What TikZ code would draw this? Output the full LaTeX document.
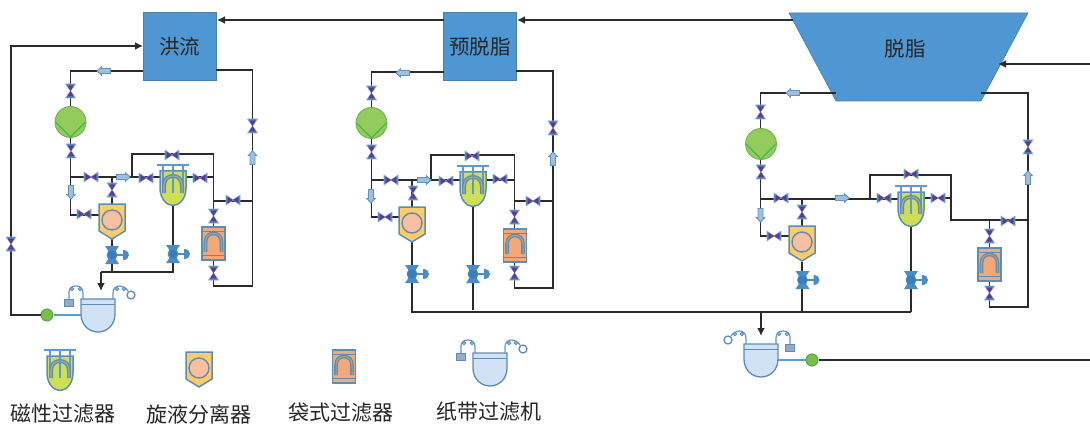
\documentclass[tikz,border=0pt]{standalone}
\usepackage{fontspec}
\setmainfont{Noto Sans CJK SC}
\usetikzlibrary{arrows.meta}
\definecolor{pipec}{HTML}{2B2B2B}
\definecolor{boxblue}{HTML}{4F97D3}
\definecolor{boxedge}{HTML}{4A80B0}
\definecolor{vblue}{HTML}{4672B0}
\definecolor{vpurple}{HTML}{5A3A9C}
\definecolor{arfill}{HTML}{9DC0E2}
\definecolor{aredge}{HTML}{5F93C4}
\definecolor{eqedge}{HTML}{5B8DB8}
\definecolor{ctrlb}{HTML}{4A8CC8}
\definecolor{lineblue}{HTML}{5B9BD5}
\tikzset{
  pipe/.style={draw=pipec,line width=1.6pt,line join=miter},
  feedpipe/.style={pipe,-{Latex[length=8pt,width=8pt]}},
  bluepipe/.style={draw=lineblue,line width=1.4pt},
  bigbox/.style={draw=boxedge,line width=1pt,fill=boxblue,minimum width=73pt,minimum height=68pt,inner sep=0pt,font=\fontsize{20.5}{24}\selectfont,text=black!85},
  boxtext/.style={inner sep=0pt,font=\fontsize{20.5}{24}\selectfont,text=black!85},
  legendtext/.style={inner sep=0pt,font=\fontsize{21}{24}\selectfont,text=black!85},
  ball/.style={circle,draw={rgb,255:red,90;green,165;blue,70},line width=1pt,fill={rgb,255:red,118;green,192;blue,72},minimum size=12pt,inner sep=0pt},
  vlv/.pic={
    \path[fill=vblue,draw=vblue!55,line width=.7pt,line join=round] (-7,-5)--(0,0)--(-7,5)--cycle (7,-5)--(0,0)--(7,5)--cycle;
    \fill[vpurple] (-5,-3)--(0,0)--(-5,3)--cycle (5,-3)--(0,0)--(5,3)--cycle;
  },
  blockarr/.pic={
    \path[fill=arfill,draw=aredge,line width=.9pt] (-6.5,-2.5)--(2.5,-2.5)--(2.5,-4.2)--(7,0)--(2.5,4.2)--(2.5,2.5)--(-6.5,2.5)--cycle;
  },
  pumpball/.pic={
    \fill[fill={rgb,255:red,146;green,204;blue,92},draw={rgb,255:red,112;green,172;blue,80},line width=.8pt] (0,0) circle (15.5);
    \draw[draw={rgb,255:red,76;green,184;blue,72},line width=1.2pt] (-15,0)--(0,15)--(15,0);
  },
  magfilt/.pic={
    \path[fill={rgb,255:red,206;green,223;blue,85},draw=eqedge,line width=1.5pt] (-13,0)--(13,0)--(13,17) .. controls (13,28) and (6,34.5) .. (0,34.5) .. controls (-6,34.5) and (-13,28) .. (-13,17)--cycle;
    \draw[draw=lineblue,line width=1.2pt] (-16,-6)--(16,-6) (-10,-6)--(-10,22) (0,-6)--(0,22) (10,-6)--(10,22);
    \draw[draw={rgb,255:red,100;green,138;blue,165},line width=4pt] (-9,22)--(-9,15) .. controls (-9,8) and (-5,5) .. (0,5) .. controls (5,5) and (9,8) .. (9,15)--(9,22);
    \draw[draw={rgb,255:red,150;green,175;blue,175},line width=1.2pt] (-9,22)--(-9,15) .. controls (-9,8) and (-5,5) .. (0,5) .. controls (5,5) and (9,8) .. (9,15)--(9,22);
    \draw[draw=lineblue,line width=1pt] (0,-6)--(0,22);
  },
  cyclo/.pic={
    \path[fill={rgb,255:red,255;green,204;blue,102},draw=eqedge,line width=1.5pt] (-13,0)--(13,0)--(13,27)--(0,35)--(-13,27)--cycle;
    \path[fill={rgb,255:red,248;green,192;blue,160},draw=eqedge,line width=1.4pt] (0,16) circle (10);
  },
  bagfilt/.pic={
    \path[fill={rgb,255:red,244;green,168;blue,120},draw=eqedge,line width=1.5pt] (-11.5,0) rectangle (11.5,33);
    \draw[draw=eqedge,line width=.8pt] (-11.5,4.5)--(11.5,4.5) (-11.5,28)--(11.5,28);
    \draw[draw={rgb,255:red,100;green,138;blue,165},line width=3.6pt] (-8,25)--(-8,15) .. controls (-8,9) and (-4,6.5) .. (0,6.5) .. controls (4,6.5) and (8,9) .. (8,15)--(8,25);
    \draw[draw={rgb,255:red,150;green,170;blue,175},line width=1pt] (-8,25)--(-8,15) .. controls (-8,9) and (-4,6.5) .. (0,6.5) .. controls (4,6.5) and (8,9) .. (8,15)--(8,25);
  },
  ctrlv/.pic={
    \draw[draw=ctrlb,line width=1.3pt] (0,0)--(11,0);
    \fill[ctrlb] (-7,-9)--(7,-9)--(3,-3)--(-3,-3)--cycle (-7,9)--(7,9)--(3,3)--(-3,3)--cycle;
    \fill[ctrlb] (11,-5) .. controls (15,-5) and (17,-2.5) .. (17,0) .. controls (17,2.5) and (15,5) .. (11,5)--cycle;
    \path[fill={rgb,255:red,58;green,125;blue,190},draw=ctrlb,line width=.8pt] (0,0) circle (5);
  },
  beltfilt/.pic={
    \path[fill={rgb,255:red,208;green,226;blue,243},draw=eqedge,line width=1.3pt] (-17,0)--(17,0)--(17,15) .. controls (17,26) and (9,33) .. (0,33) .. controls (-9,33) and (-17,26) .. (-17,15)--cycle;
    \draw[draw=eqedge,line width=.8pt] (-17,5)--(17,5);
    \draw[draw=lineblue,line width=1.2pt] (-29,0)--(-29,-7) .. controls (-29,-11) and (-26,-13) .. (-22,-13) .. controls (-18,-13) and (-15,-11) .. (-15,-6)--(-15,0);
    \draw[draw=lineblue,line width=1.2pt] (15,0)--(15,-6) .. controls (15,-11) and (18,-13) .. (22,-13) .. controls (25,-13) and (28,-11) .. (30,-8);
    \path[fill=white,draw=eqedge,line width=1pt] (-26,-10) circle (1.6) (-18,-10) circle (1.6) (19,-10) circle (1.6) (26,-10) circle (1.6);
    \path[fill=white,draw=eqedge,line width=1.3pt] (33,-4) circle (4);
    \path[fill={rgb,255:red,150;green,170;blue,200},draw=eqedge,line width=1pt] (-33.5,0) rectangle (-24.5,7);
  },
}
\begin{document}
\begin{tikzpicture}[x=1pt,y=-1pt]
\useasboundingbox (0,0) rectangle (1090,425);
\fill[white] (0,0) rectangle (1090,425);
% main tanks
\node[bigbox] (hl) at (179.5,47) {洪流};
\node[bigbox] (yt) at (480,47) {预脱脂};
\path[fill=boxblue,draw=boxedge,line width=.6pt] (789,13)--(1028,13)--(981,101)--(836,101)--cycle;
\node[boxtext] (tz) at (905,49) {脱脂};
\node[ball] (g1) at (47,315) {};
\node[ball] (g2) at (812,360) {};
% unit coordinates
\coordinate (t1) at (217,20); \coordinate (t1s) at (444,20);
\coordinate (t2) at (517,20); \coordinate (t2s) at (793,20);
\coordinate (fd) at (998,64); \coordinate (fds) at (1090,64);
\coordinate (hlin) at (143,46); \coordinate (lp1) at (11,46); \coordinate (lp2) at (11,315);
\coordinate (se) at (1090,360);
% unit 1
\coordinate (a1) at (143,71); \coordinate (a2) at (70.5,71); \coordinate (aj) at (70.5,177);
\coordinate (a3) at (70.5,215); \coordinate (acl) at (99,215); \coordinate (act) at (112,177);
\coordinate (acb) at (112,204); \coordinate (alb) at (132,177); \coordinate (alt) at (132,154);
\coordinate (alr) at (213.5,154); \coordinate (aml) at (160,177); \coordinate (amr) at (186,177);
\coordinate (ar) at (213.5,177); \coordinate (arj) at (213.5,201); \coordinate (are) at (252.5,201);
\coordinate (abt) at (213.5,227); \coordinate (abb) at (213.5,260); \coordinate (a4) at (213.5,286);
\coordinate (a5) at (252.5,286); \coordinate (a6) at (252.5,70); \coordinate (a7) at (216,70);
\coordinate (acy) at (112,239); \coordinate (aw1) at (112,272); \coordinate (amb) at (173,205);
\coordinate (aw2) at (173,272); \coordinate (aw0) at (101,272); \coordinate (afd) at (101,291);
\coordinate (bf1) at (81,315);
% unit 2
\coordinate (b1) at (444,72); \coordinate (b2) at (371.5,72); \coordinate (bj) at (371.5,180);
\coordinate (b3) at (371.5,217); \coordinate (bcl) at (399,217); \coordinate (bct) at (412,180);
\coordinate (bcb) at (412,207); \coordinate (blb) at (431,180); \coordinate (blt) at (431,155);
\coordinate (blr) at (514.5,155); \coordinate (bml) at (460,180); \coordinate (bmr) at (486,180);
\coordinate (br) at (514.5,180); \coordinate (brj) at (514.5,201); \coordinate (bre) at (553,201);
\coordinate (bbt) at (514.5,229); \coordinate (bbb) at (514.5,262); \coordinate (b4) at (514.5,288);
\coordinate (b5) at (553,288); \coordinate (b6) at (553,71); \coordinate (b7) at (516,71);
\coordinate (bcy) at (412,242); \coordinate (bw) at (412,312); \coordinate (bmb) at (473,207);
\coordinate (bw2) at (473,310);
% unit 3
\coordinate (c1) at (836,93); \coordinate (c2) at (760.5,93); \coordinate (cj) at (760.5,199);
\coordinate (c3) at (760.5,236); \coordinate (ccl) at (789,236); \coordinate (cct) at (802,199);
\coordinate (ccb) at (802,226); \coordinate (clb) at (870,199); \coordinate (clt) at (870,175);
\coordinate (clr) at (951,175); \coordinate (cml) at (898,199); \coordinate (cmr) at (924,198);
\coordinate (cr) at (951,198); \coordinate (crj) at (951,220); \coordinate (cre) at (1028,220);
\coordinate (cbj) at (989.5,220); \coordinate (cbt) at (989.5,248); \coordinate (cbb) at (989.5,281);
\coordinate (c4) at (989.5,307); \coordinate (c5) at (1028,307); \coordinate (c6) at (1028,93);
\coordinate (c7) at (981,93); \coordinate (ccy) at (802,262); \coordinate (cw) at (802,312);
\coordinate (cmb) at (911,226); \coordinate (cw2) at (911,312); \coordinate (cfs) at (761,312);
\coordinate (cfd) at (761,336); \coordinate (bf2) at (778,360);
% pipes
\draw[feedpipe] (t1s)--(t1);
\draw[feedpipe] (t2s)--(t2);
\draw[feedpipe] (fds)--(fd);
\draw[feedpipe] (g1)--(lp2)--(lp1)--(hlin);
\draw[pipe] (g2)--(se);
\draw[bluepipe] (g1)--(bf1);
\draw[bluepipe] (g2)--(bf2);
\draw[pipe] (a1)--(a2)--(aj)--(a3)--(acl);
\draw[pipe] (aj)--(aml);
\draw[pipe] (act)--(acb);
\draw[pipe] (alb)--(alt)--(alr)--(arj)--(are);
\draw[pipe] (amr)--(ar);
\draw[pipe] (arj)--(abt);
\draw[pipe] (abb)--(a4)--(a5)--(a6)--(a7);
\draw[pipe] (acy)--(aw1);
\draw[pipe] (amb)--(aw2)--(aw0);
\draw[feedpipe] (aw0)--(afd);
\draw[pipe] (b1)--(b2)--(bj)--(b3)--(bcl);
\draw[pipe] (bj)--(bml);
\draw[pipe] (bct)--(bcb);
\draw[pipe] (blb)--(blt)--(blr)--(brj)--(bre);
\draw[pipe] (bmr)--(br);
\draw[pipe] (brj)--(bbt);
\draw[pipe] (bbb)--(b4)--(b5)--(b6)--(b7);
\draw[pipe] (bcy)--(bw)--(cw2);
\draw[pipe] (bmb)--(bw2);
\draw[pipe] (c1)--(c2)--(cj)--(c3)--(ccl);
\draw[pipe] (cj)--(cml);
\draw[pipe] (cct)--(ccb);
\draw[pipe] (clb)--(clt)--(clr)--(crj)--(cre);
\draw[pipe] (cmr)--(cr);
\draw[pipe] (cbj)--(cbt);
\draw[pipe] (cbb)--(c4)--(c5)--(c6)--(c7);
\draw[pipe] (ccy)--(cw);
\draw[pipe] (cmb)--(cw2);
\draw[feedpipe] (cfs)--(cfd);
% equipment unit 1
\pic at (70.5,122) {pumpball};
\pic at (173,171) {magfilt};
\pic at (112,204) {cyclo};
\pic at (213.5,227) {bagfilt};
\pic at (98,299) {beltfilt};
\pic at (112,255) {ctrlv};
\pic at (173,254) {ctrlv};
\foreach \p in {(70.5,91),(71,151),(112,190),(213.5,216),(213.5,273),(252.5,126),(11,244)} \pic[rotate=90] at \p {vlv};
\foreach \p in {(91,177),(146,178),(172,155),(200,178),(233,200),(84,214)} \pic at \p {vlv};
\pic[rotate=180] at (104,71) {blockarr};
\pic[rotate=90] at (252.5,158) {blockarr};
\pic[rotate=270] at (71,192) {blockarr};
\pic at (123,177) {blockarr};
% equipment unit 2
\pic at (371.5,123) {pumpball};
\pic at (473,172) {magfilt};
\pic at (412,207) {cyclo};
\pic at (515,229) {bagfilt};
\pic at (412,274) {ctrlv};
\pic at (473,274) {ctrlv};
\foreach \p in {(371.5,93),(371.5,152),(413,193),(514.5,217),(514.5,273),(553,128)} \pic[rotate=90] at \p {vlv};
\foreach \p in {(391,180),(446,181),(472,156),(500,179),(533,201),(385,217)} \pic at \p {vlv};
\pic[rotate=180] at (403,73) {blockarr};
\pic[rotate=90] at (553,159) {blockarr};
\pic[rotate=270] at (371,196) {blockarr};
\pic at (424,180) {blockarr};
% equipment unit 3
\pic at (761,144) {pumpball};
\pic at (911,192) {magfilt};
\pic at (802,226) {cyclo};
\pic at (989.5,248) {bagfilt};
\pic[xscale=-1] at (761,344) {beltfilt};
\pic at (802.5,280) {ctrlv};
\pic at (911,280) {ctrlv};
\foreach \p in {(760.5,112),(761,172),(802,212),(989.5,236),(989.5,293),(1028,147)} \pic[rotate=90] at \p {vlv};
\foreach \p in {(781,198),(774,236),(884,198),(938,198),(911,174),(1008,221)} \pic at \p {vlv};
\pic[rotate=180] at (793,93) {blockarr};
\pic[rotate=90] at (1028,178) {blockarr};
\pic[rotate=270] at (760.5,215) {blockarr};
\pic at (842,198) {blockarr};
% legend
\pic at (60,356) {magfilt};
\pic at (199,352) {cyclo};
\pic at (344,350) {bagfilt};
\pic at (490,353) {beltfilt};
\node[legendtext] (l1) at (63,414) {磁性过滤器};
\node[legendtext] (l2) at (198.5,414) {旋液分离器};
\node[legendtext] (l3) at (341,413) {袋式过滤器};
\node[legendtext] (l4) at (488.5,412) {纸带过滤机};
\end{tikzpicture}
\end{document}
